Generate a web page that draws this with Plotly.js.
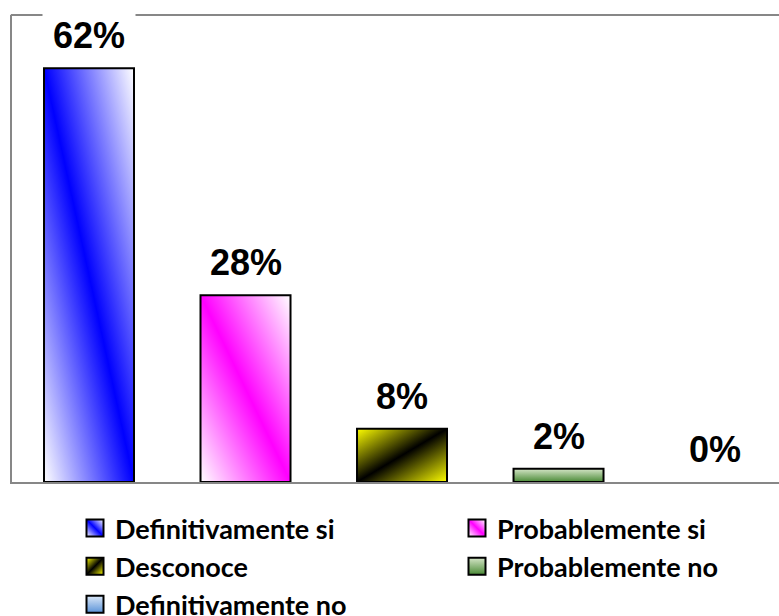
<!DOCTYPE html>
<html><head><meta charset="utf-8">
<script src="https://cdn.plot.ly/plotly-3.0.1.min.js"></script>
<style>html,body{margin:0;padding:0;background:#fff;overflow:hidden}</style>
</head><body>
<div id="chart" style="width:790px;height:616px"></div>
<script>
// ---- data ----
const categories = ['Definitivamente si', 'Probablemente si', 'Desconoce', 'Probablemente no', 'Definitivamente no'];
const values = [62, 28, 8, 2, 0];
const labels = ['62%', '28%', '8%', '2%', '0%'];
const legendColumn = ['legend', 'legend2', 'legend', 'legend2', 'legend'];
const baseColors = ['#0000ff', '#ff00ff', '#808000', '#8fbc6f', '#8fb4e6'];

// gradient styles (x1,y1,x2,y2 and colour stops)
const gradients = [
  {v: [0, 1, 1, 0], stops: [[0, '#ffffff'], [0.5, '#0000ff'], [1, '#ffffff']]},
  {v: [0, 1, 1, 0], stops: [[0, '#ffffff'], [0.5, '#ff00ff'], [1, '#ffffff']]},
  {v: [0, 0, 1, 1], stops: [[0, '#ffff00'], [0.5, '#000000'], [1, '#ffff00']]},
  {v: [0, 0, 0, 1], stops: [[0, '#d6e6c8'], [1, '#4a8a36']]},
  {v: [0, 0, 0, 1], stops: [[0, '#dbe8f8'], [1, '#5b93d8']]}
];

const GRAY = '#878787';
const W = 790;

const traces = categories.map((c, i) => ({
  type: 'bar',
  name: c,
  x: [c],
  y: [values[i]],
  width: 0.575,
  legend: legendColumn[i],
  marker: {color: baseColors[i], line: {color: '#000000', width: values[i] > 0 ? 2 : 0}},
  hoverinfo: 'skip'
}));

const annotations = categories.map((c, i) => ({
  x: c, y: values[i], xref: 'x', yref: 'y',
  text: '<b>' + labels[i] + '</b>',
  showarrow: false,
  yanchor: 'bottom',
  yshift: 7,
  width: 84,
  borderpad: 4,
  bgcolor: '#ffffff',
  font: {family: 'Liberation Sans, Arial, sans-serif', size: 36, color: '#000000'}
}));

const legendFont = {family: 'Lato, Carlito, sans-serif', size: 27, color: '#000000', weight: 'bold'};
const legendBase = {
  orientation: 'v', traceorder: 'normal',
  xref: 'container', yref: 'container',
  xanchor: 'left', yanchor: 'top',
  bgcolor: 'rgba(0,0,0,0)', borderwidth: 0,
  font: legendFont
};

const layout = {
  width: W, height: 616,
  margin: {l: 12, r: 0, t: 15, b: 134, pad: 0, autoexpand: false},
  paper_bgcolor: '#ffffff', plot_bgcolor: '#ffffff',
  barmode: 'overlay',
  showlegend: true,
  xaxis: {
    type: 'category', categoryorder: 'array', categoryarray: categories,
    range: [-0.492, 4.479],
    showline: true, mirror: false, linecolor: GRAY, linewidth: 2,
    showgrid: false, zeroline: false, showticklabels: false, ticks: ''
  },
  yaxis: {
    range: [0, 70],
    showline: true, mirror: false, linecolor: GRAY, linewidth: 2,
    showgrid: false, zeroline: false, showticklabels: false, ticks: ''
  },
  shapes: [{
    type: 'line', xref: 'paper', yref: 'paper', x0: -0.0015, x1: 1, y0: 1, y1: 1,
    line: {color: GRAY, width: 2}, layer: 'below'
  }],
  legend: Object.assign({}, legendBase, {x: 75 / W, y: 1 - 504 / 616}),
  legend2: Object.assign({}, legendBase, {x: 457 / W, y: 1 - 504 / 616}),
  annotations: annotations
};

const gd = document.getElementById('chart');
Plotly.newPlot(gd, traces, layout, {staticPlot: true, displayModeBar: false}).then(() => {
  const NS = 'http://www.w3.org/2000/svg';
  const svg = gd.querySelector('svg.main-svg');
  let defs = svg.querySelector('defs');
  if (!defs) { defs = document.createElementNS(NS, 'defs'); svg.insertBefore(defs, svg.firstChild); }
  gradients.forEach((g, i) => {
    const lg = document.createElementNS(NS, 'linearGradient');
    lg.setAttribute('id', 'grad' + i);
    lg.setAttribute('x1', g.v[0]); lg.setAttribute('y1', g.v[1]);
    lg.setAttribute('x2', g.v[2]); lg.setAttribute('y2', g.v[3]);
    g.stops.forEach(s => {
      const st = document.createElementNS(NS, 'stop');
      st.setAttribute('offset', s[0]);
      st.setAttribute('stop-color', s[1]);
      lg.appendChild(st);
    });
    defs.appendChild(lg);
  });
  gd.querySelectorAll('.barlayer .trace').forEach((tr, i) => {
    tr.querySelectorAll('path').forEach(p => { p.style.fill = 'url(#grad' + i + ')'; });
  });
  const colIdx = {legend: [0, 2, 4], legend2: [1, 3]};
  Object.keys(colIdx).forEach(name => {
    const lg = gd.querySelector('g.' + name);
    if (!lg) return;
    lg.querySelectorAll('.traces').forEach((tr, k) => {
      const i = colIdx[name][k];
      tr.querySelectorAll('.legendpoints path').forEach(p => {
        p.setAttribute('d', 'M8.5,8.5H-8.5V-8.5H8.5Z');
        p.style.fill = 'url(#grad' + i + ')';
        p.style.stroke = '#000000';
        p.style.strokeWidth = '2px';
      });
    });
  });
});
</script>
</body></html>
